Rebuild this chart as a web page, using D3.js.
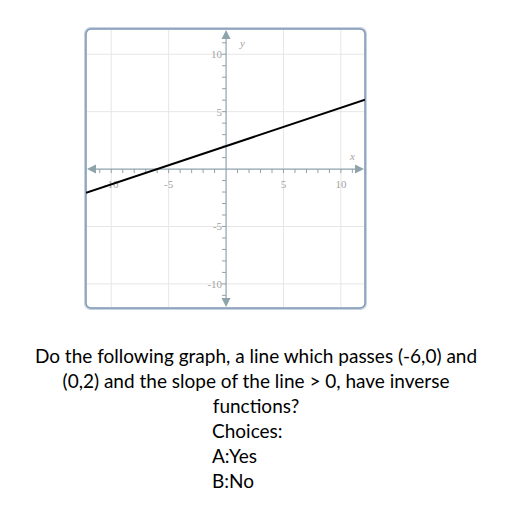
<!DOCTYPE html>
<html><head><meta charset="utf-8">
<script src="https://cdn.jsdelivr.net/npm/d3@7"></script>
<style>body{margin:0;background:#fff}svg{display:block}</style>
</head><body>
<svg id="c" width="512" height="512"></svg>
<script>
const xDomain = [-12.2, 12.1];
const yDomain = [-12.1, 12.2];
const majorTicks = [-10, -5, 5, 10];
const minorTicks = [-12,-11,-10,-9,-8,-7,-6,-5,-4,-3,-2,-1,1,2,3,4,5,6,7,8,9,10,11,12];
const linePoints = [[-6, 0], [0, 2]];
const questionLines = ["Do the following graph, a line which passes (-6,0) and", "(0,2) and the slope of the line > 0, have inverse", "functions?"];
const choiceLines = ["Choices:", "A:Yes", "B:No"];

const svg = d3.select("#c");
const L = 86, R = 365, T = 29, B = 308;
const x = d3.scaleLinear().domain(xDomain).range([L, R]);
const y = d3.scaleLinear().domain(yDomain).range([B, T]);

// outer box
svg.append("rect").attr("x", L - 0.5).attr("y", T - 0.5).attr("width", R - L + 1).attr("height", B - T + 1)
  .attr("rx", 5).attr("fill", "#fff").attr("stroke", "#c9d3df").attr("stroke-width", 3);
svg.append("rect").attr("x", L).attr("y", T).attr("width", R - L).attr("height", B - T)
  .attr("rx", 5).attr("fill", "#fff").attr("stroke", "#7f97b6").attr("stroke-width", 1.5);

const g = svg.append("g");
// grid
g.selectAll(".gx").data(majorTicks).join("line")
  .attr("x1", d => x(d)).attr("x2", d => x(d)).attr("y1", T + 1).attr("y2", B - 1)
  .attr("stroke", "#e6e6e6").attr("stroke-width", 1);
g.selectAll(".gy").data(majorTicks).join("line")
  .attr("y1", d => y(d)).attr("y2", d => y(d)).attr("x1", L + 1).attr("x2", R - 1)
  .attr("stroke", "#e6e6e6").attr("stroke-width", 1);

const axisColor = "#8fa3ab";
const x0 = x(0), y0 = y(0);
// axes
g.append("line").attr("x1", L + 8).attr("x2", R - 8).attr("y1", y0).attr("y2", y0).attr("stroke", axisColor).attr("stroke-width", 1.2);
g.append("line").attr("y1", T + 8).attr("y2", B - 8).attr("x1", x0).attr("x2", x0).attr("stroke", axisColor).attr("stroke-width", 1.2);
// arrows
const ah = 9, aw = 4.5;
g.append("path").attr("d", `M${L+1},${y0} L${L+1+ah},${y0-aw} L${L+1+ah},${y0+aw} Z`).attr("fill", axisColor);
g.append("path").attr("d", `M${R-1},${y0} L${R-1-ah},${y0-aw} L${R-1-ah},${y0+aw} Z`).attr("fill", axisColor);
g.append("path").attr("d", `M${x0},${T+1} L${x0-aw},${T+1+ah} L${x0+aw},${T+1+ah} Z`).attr("fill", axisColor);
g.append("path").attr("d", `M${x0},${B-1} L${x0-aw},${B-1-ah} L${x0+aw},${B-1-ah} Z`).attr("fill", axisColor);

// ticks
g.selectAll(".tx").data(minorTicks.filter(d => x(d) > L + 10 && x(d) < R - 10)).join("line")
  .attr("x1", d => x(d)).attr("x2", d => x(d)).attr("y1", y0).attr("y2", y0 + 4)
  .attr("stroke", axisColor).attr("stroke-width", 1);
g.selectAll(".ty").data(minorTicks.filter(d => y(d) > T + 10 && y(d) < B - 10)).join("line")
  .attr("y1", d => y(d)).attr("y2", d => y(d)).attr("x1", x0 - 4).attr("x2", x0)
  .attr("stroke", axisColor).attr("stroke-width", 1);

// tick labels
const lblFont = "'Liberation Serif', serif";
const lblColor = "#a3a3a3";
g.selectAll(".lx").data(majorTicks).join("text")
  .attr("x", d => x(d)).attr("y", y0 + 19).attr("text-anchor", "middle")
  .attr("font-family", lblFont).attr("font-size", 11).attr("fill", lblColor).text(d => d);
g.selectAll(".ly").data(majorTicks).join("text")
  .attr("x", x0 - 4).attr("y", d => y(d) + 4).attr("text-anchor", "end")
  .attr("font-family", lblFont).attr("font-size", 11).attr("fill", lblColor).text(d => d);
g.append("text").attr("x", x0 + 14).attr("y", T + 18).attr("font-family", lblFont).attr("font-style", "italic")
  .attr("font-size", 11).attr("fill", lblColor).text("y");
g.append("text").attr("x", x(10.8)).attr("y", y0 - 9).attr("font-family", lblFont).attr("font-style", "italic")
  .attr("font-size", 11).attr("fill", lblColor).text("x");

// line through the two points, extended across the box
const slope = (linePoints[1][1] - linePoints[0][1]) / (linePoints[1][0] - linePoints[0][0]);
const f = v => linePoints[0][1] + slope * (v - linePoints[0][0]);
svg.append("defs").append("clipPath").attr("id", "clip").append("rect")
  .attr("x", L).attr("y", T).attr("width", R - L).attr("height", B - T);
g.append("line").attr("clip-path", "url(#clip)")
  .attr("x1", x(xDomain[0])).attr("y1", y(f(xDomain[0]))).attr("x2", x(xDomain[1])).attr("y2", y(f(xDomain[1])))
  .attr("stroke", "#000").attr("stroke-width", 2);

// text
const tf = "'Source Sans Pro', Lato, sans-serif";
questionLines.forEach((t, i) => {
  svg.append("text").attr("x", 256).attr("y", 363 + i * 25).attr("text-anchor", "middle")
    .attr("font-family", tf).attr("font-size", 19).attr("fill", "#000").text(t);
});
choiceLines.forEach((t, i) => {
  svg.append("text").attr("x", 212).attr("y", 438 + i * 25).attr("text-anchor", "start")
    .attr("font-family", tf).attr("font-size", 19).attr("fill", "#000").text(t);
});
</script>
</body></html>
